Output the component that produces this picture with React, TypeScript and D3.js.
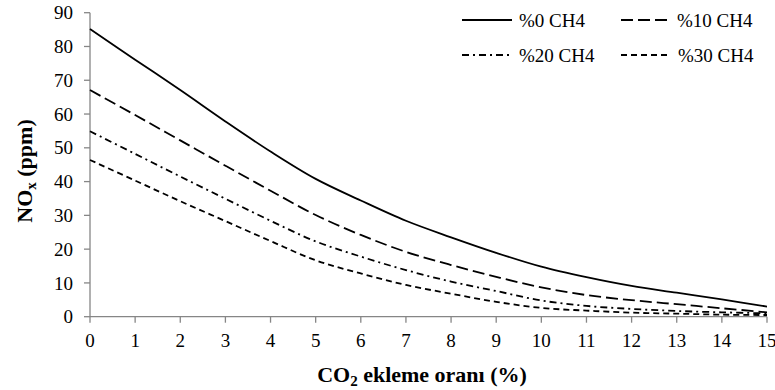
import React from "react";
import * as d3 from "d3";

// CO2 addition ratio (%)
const co2Ratio = [0, 1, 2, 3, 4, 5, 6, 7, 8, 9, 10, 11, 12, 13, 14, 15];

// NOx emissions (ppm) for each CH4 share
const nox0 = [85.2, 76.1, 67.1, 57.8, 48.9, 40.8, 34.4, 28.4, 23.5, 18.9, 14.8, 11.7, 9.1, 7.1, 5.1, 3.0];
const nox10 = [67.1, 59.7, 52.2, 44.7, 37.3, 30.1, 24.2, 19.2, 15.3, 11.8, 8.7, 6.4, 4.9, 3.7, 2.5, 1.3];
const nox20 = [54.9, 48.2, 41.5, 34.9, 28.4, 22.3, 17.8, 13.8, 10.4, 7.6, 4.8, 3.2, 2.3, 1.7, 1.3, 1.0];
const nox30 = [46.4, 40.3, 34.2, 28.3, 22.4, 16.7, 12.8, 9.4, 6.8, 4.4, 2.6, 1.8, 1.2, 0.9, 0.6, 0.5];

const seriesNames = ["%0 CH4", "%10 CH4", "%20 CH4", "%30 CH4"];
const yTicks = [0, 10, 20, 30, 40, 50, 60, 70, 80, 90];
const xTicks = co2Ratio;

const dashes = ["none", "12,5", "7,4,2,4", "6,4"];

const W = 775;
const H = 390;
const left = 90;
const right = 767;
const top = 12.7;
const bottom = 316.7;
const font = "Liberation Serif, DejaVu Serif, serif";
const axisColor = "#868686";

export default function App() {
  const x = d3.scaleLinear().domain([0, 15]).range([left, right]);
  const y = d3.scaleLinear().domain([0, 90]).range([bottom, top]);
  const series = [nox0, nox10, nox20, nox30];

  const line = d3
    .line<number>()
    .x((_, i) => x(co2Ratio[i]))
    .y((d) => y(d))
    .curve(d3.curveCatmullRom.alpha(0.5));

  const legendRows = [
    { sx: 462, tx: 519, ty: 20 },
    { sx: 621, tx: 677, ty: 20 },
    { sx: 462, tx: 519, ty: 55 },
    { sx: 621, tx: 678, ty: 55 },
  ];
  const sampleLen = [50, 50, 50, 48];
  const txt = { fontFamily: font };

  return (
    <svg
      width={W}
      height={H}
      style={{ position: "absolute", left: 0, top: 0, background: "#fff" }}
    >
      <rect width={W} height={H} fill="#fff" />

      {/* axes */}
      <line x1={left} x2={left} y1={top} y2={bottom} stroke={axisColor} strokeWidth={1.3} />
      <line x1={left} x2={right} y1={bottom} y2={bottom} stroke={axisColor} strokeWidth={1.3} />
      {yTicks.map((t) => (
        <g key={"y" + t}>
          <line x1={left - 6} x2={left} y1={y(t)} y2={y(t)} stroke={axisColor} strokeWidth={1.3} />
          <text x={left - 17} y={y(t)} dy="0.35em" textAnchor="end" fontSize={19} fill="#000" style={txt}>
            {t}
          </text>
        </g>
      ))}
      {xTicks.map((t) => (
        <g key={"x" + t}>
          <line x1={x(t)} x2={x(t)} y1={bottom} y2={bottom + 6} stroke={axisColor} strokeWidth={1.3} />
          <text x={x(t)} y={340} dy="0.35em" textAnchor="middle" fontSize={19} fill="#000" style={txt}>
            {t}
          </text>
        </g>
      ))}

      {/* series */}
      {series.map((s, i) => (
        <path
          key={seriesNames[i]}
          d={line(s) || ""}
          fill="none"
          stroke="#000"
          strokeWidth={1.8}
          strokeDasharray={dashes[i]}
        />
      ))}

      {/* legend */}
      {legendRows.map((r, i) => (
        <g key={"lg" + i}>
          <line
            x1={r.sx}
            x2={r.sx + sampleLen[i]}
            y1={r.ty}
            y2={r.ty}
            stroke="#000"
            strokeWidth={1.8}
            strokeDasharray={dashes[i]}
          />
          <text x={r.tx} y={r.ty} dy="0.35em" fontSize={19} fill="#000" style={txt}>
            {seriesNames[i]}
          </text>
        </g>
      ))}

      {/* axis titles */}
      <text x={422} y={374} dy="0.35em" textAnchor="middle" fontSize={22} fontWeight="bold" fill="#000" style={txt}>
        CO<tspan fontSize={15} dy="4">2</tspan>
        <tspan dy="-4"> ekleme oranı (%)</tspan>
      </text>
      <text
        transform="translate(24,171) rotate(-90)"
        textAnchor="middle"
        dy="0.35em"
        fontSize={22}
        fontWeight="bold"
        fill="#000"
        style={txt}
      >
        NO<tspan fontSize={15} dy="4">x</tspan>
        <tspan dy="-4"> (ppm)</tspan>
      </text>
    </svg>
  );
}
